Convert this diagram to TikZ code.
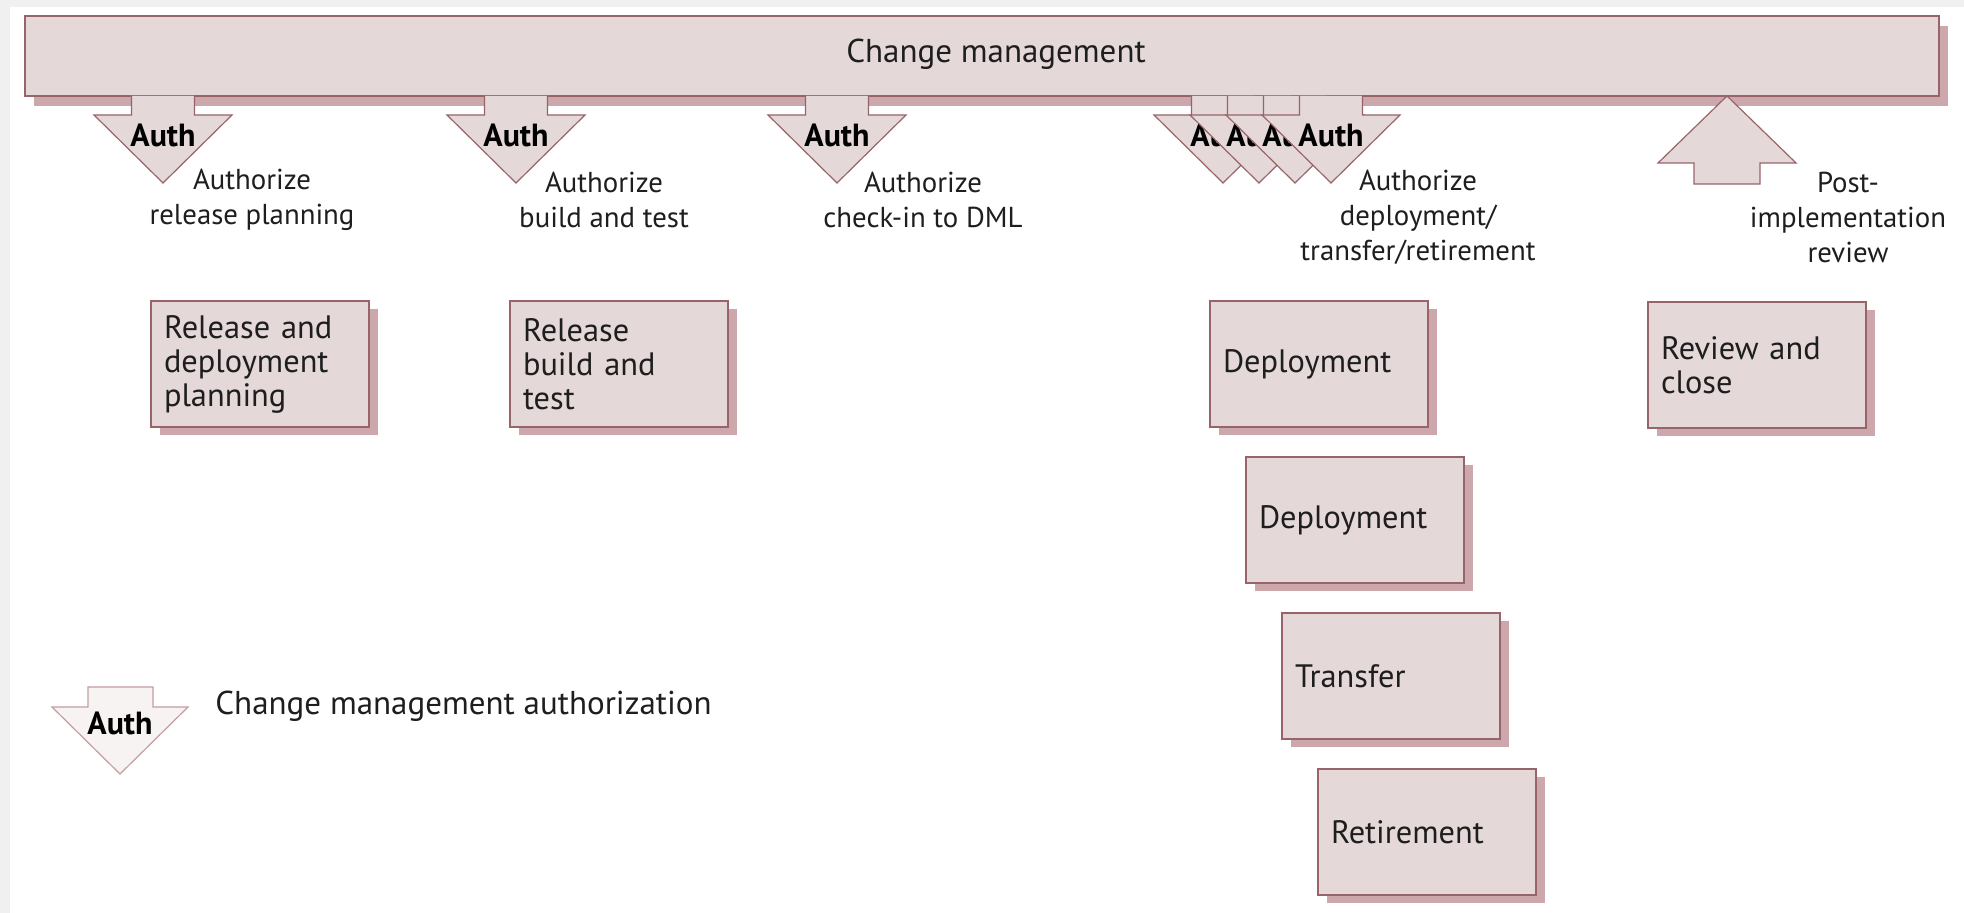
\documentclass[tikz,border=0pt]{standalone}
\usepackage{fontspec}
\setmainfont{PT Sans}
\usetikzlibrary{shadows}

\definecolor{boxfill}{HTML}{E4D8D9}
\definecolor{boxline}{HTML}{996469}
\definecolor{shadowcol}{HTML}{CCA7AB}
\definecolor{legfill}{HTML}{F8F3F3}
\definecolor{legline}{HTML}{C49DA2}
\definecolor{inktext}{HTML}{1E1E1E}
\definecolor{framegray}{HTML}{F0F0F0}

\tikzset{
  procbox/.style={draw=boxline, fill=boxfill, line width=0.8pt,
    minimum width=109pt, minimum height=63pt, text width=96pt,
    inner xsep=6.5pt, align=left, text=inktext,
    font=\fontsize{16.2}{17}\selectfont,
    drop shadow={shadow xshift=4.5pt, shadow yshift=-4pt, fill=shadowcol, opacity=1}},
  barbox/.style={draw=boxline, fill=boxfill, line width=0.8pt,
    minimum width=957pt, minimum height=40pt, inner sep=0pt,
    drop shadow={shadow xshift=4.5pt, shadow yshift=-5pt, fill=shadowcol, opacity=1}},
  arrowshape/.style={draw=boxline, fill=boxfill, line width=0.6pt, line join=miter},
  legendshape/.style={draw=legline, fill=legfill, line width=0.6pt, line join=miter},
  authtext/.style={font=\bfseries\fontsize{16}{17}\selectfont, text=black, inner sep=0pt},
  labeltext/.style={font=\fontsize{14.4}{17.5}\selectfont, text=inktext, align=center, inner sep=0pt},
  bartext/.style={font=\fontsize{16.5}{18}\selectfont, text=inktext, inner sep=0pt},
}

% down-pointing authorisation arrow hanging from the bar: #1 centre x, #2 node name
\newcommand{\authDown}[2]{%
  \filldraw[arrowshape] ({#1-31.5},96) -- ({#1-31.5},115) -- ({#1-69},115) -- (#1,183)
    -- ({#1+69},115) -- ({#1+31.5},115) -- ({#1+31.5},96);
  \node[authtext] (#2) at (#1,135) {Auth};
}

\begin{document}
\begin{tikzpicture}[x=0.5pt, y=-0.5pt]
  % page frame
  \fill[framegray] (0,0) rectangle (1964,913);
  \fill[white] (10,7) rectangle (1964,913);
  \useasboundingbox (0,0) rectangle (1964,913);

  % change management bar
  \node[barbox] (cm) at (982,56) {};
  \node[bartext] (cmtext) at (996,54) {Change management};

  % authorisation arrows
  \authDown{163}{auth1}
  \authDown{516}{auth2}
  \authDown{837}{auth3}
  \authDown{1223}{auth4a}
  \authDown{1259}{auth4b}
  \authDown{1295}{auth4c}
  \authDown{1331}{auth4d}

  % post-implementation review arrow (pointing up into the bar)
  \filldraw[arrowshape] (1727,96) -- (1796,163) -- (1760,163) -- (1760,184)
    -- (1694,184) -- (1694,163) -- (1658,163) -- cycle;

  % arrow captions
  \node[labeltext] (lab1) at (252,200) {Authorize\\release planning};
  \node[labeltext] (lab2) at (604,200) {Authorize\\build and test};
  \node[labeltext] (lab3) at (923,200) {Authorize\\check-in to DML};
  \node[labeltext] (lab4) at (1418,217) {Authorize\\deployment/\\transfer/retirement};
  \node[labeltext] (lab5) at (1848,217) {Post-\\implementation\\review};

  % process boxes
  \node[procbox] (plan) at (260,364) {Release and\\deployment\\planning};
  \node[procbox] (build) at (619,364) {Release\\build and\\test};
  \node[procbox] (dep1) at (1319,364) {Deployment};
  \node[procbox] (dep2) at (1355,520) {Deployment};
  \node[procbox] (transfer) at (1391,676) {Transfer};
  \node[procbox] (retire) at (1427,832) {Retirement};
  \node[procbox] (review) at (1757,365) {Review and\\close};

  % legend
  \filldraw[legendshape] (88,687) -- (153,687) -- (153,707) -- (188,707) -- (120,774)
    -- (52,707) -- (88,707) -- cycle;
  \node[authtext] (legauth) at (120,723) {Auth};
  \node[bartext, anchor=west] (legtext) at (215,706) {Change management authorization};
\end{tikzpicture}
\end{document}
